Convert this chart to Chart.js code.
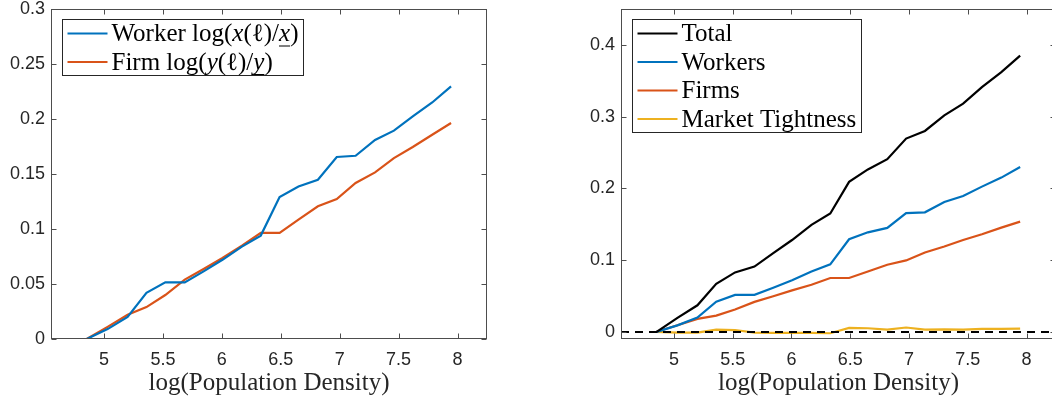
<!DOCTYPE html>
<html>
<head>
<meta charset="utf-8">
<script src="https://cdn.jsdelivr.net/npm/chart.js@4/dist/chart.umd.min.js"></script>
<style>
  html, body { margin: 0; padding: 0; background: #fff; overflow: hidden; width: 1052px; height: 402px; }
  .panel { position: absolute; top: 0; height: 402px; }
  #leftPanel { left: 0; width: 500px; }
  #rightPanel { left: 570px; width: 490px; }
</style>
</head>
<body>
<div class="panel" id="leftPanel"><canvas id="leftChart"></canvas></div>
<div class="panel" id="rightPanel"><canvas id="rightChart"></canvas></div>
<script>
// Values
var logDensity = [4.853, 5.03, 5.2, 5.36, 5.52, 5.685, 5.845, 6.005, 6.17, 6.33,
                  6.49, 6.65, 6.815, 6.975, 7.135, 7.3, 7.46, 7.62, 7.785, 7.945];
var workerGain = [0, 0.009, 0.020, 0.042, 0.0515, 0.0515, 0.0615, 0.072, 0.084, 0.094,
                  0.129, 0.1387, 0.1448, 0.1655, 0.1666, 0.181, 0.1894, 0.2024, 0.215, 0.2297];
var firmGain = [0, 0.011, 0.022, 0.029, 0.040, 0.054, 0.0636, 0.0736, 0.0848, 0.0964,
                0.0964, 0.1085, 0.1206, 0.1273, 0.1418, 0.1515, 0.1645, 0.1745, 0.1857, 0.1964];
var totalEffect = [0, 0.0194, 0.037, 0.067, 0.0828, 0.091, 0.1097, 0.128, 0.149, 0.165,
                   0.209, 0.2264, 0.2407, 0.2694, 0.280, 0.3018, 0.318, 0.341, 0.362, 0.385];
var firmsEffect = [0, 0.0092, 0.018, 0.0226, 0.031, 0.0417, 0.0495, 0.0578, 0.0657, 0.075,
                   0.075, 0.0842, 0.0935, 0.0995, 0.1106, 0.1189, 0.128, 0.136, 0.1453, 0.1536];
var tightnessEffect = [0, -0.001, -0.001, 0.003, 0.0025, -0.001, -0.0015, -0.0015, -0.0015, -0.002,
                       0.0055, 0.005, 0.003, 0.006, 0.003, 0.0035, 0.003, 0.004, 0.004, 0.0045];

var xTicks = [5, 5.5, 6, 6.5, 7, 7.5, 8];
var yTicksLeft = [0, 0.05, 0.1, 0.15, 0.2, 0.25, 0.3];
var yTicksRight = [0, 0.1, 0.2, 0.3, 0.4];

var xTitle = 'log(Population Density)';

// legend entries: segments of [text, italic, underline]
var leftLegend = [
  { color: '#0072BD', parts: [['Worker log(', 0, 0], ['x', 1, 0], ['(\u2113)/', 0, 0], ['x', 1, 1], [')', 0, 0]] },
  { color: '#D95319', parts: [['Firm log(', 0, 0], ['y', 1, 0], ['(\u2113)/', 0, 0], ['y', 1, 1], [')', 0, 0]] }
];
var rightLegend = [
  { color: '#000000', parts: [['Total', 0, 0]] },
  { color: '#0072BD', parts: [['Workers', 0, 0]] },
  { color: '#D95319', parts: [['Firms', 0, 0]] },
  { color: '#EDB120', parts: [['Market Tightness', 0, 0]] }
];

var SERIF = '"Liberation Serif", "Times New Roman", serif';
var SANS = '"Liberation Sans", Arial, sans-serif';
var SERIF_SIZE = 25;

function points(ys) {
  return logDensity.map(function (x, i) { return { x: x, y: ys[i] }; });
}

function series(label, ys, color) {
  return {
    label: label,
    data: points(ys),
    borderColor: color,
    backgroundColor: color,
    borderWidth: 2.2,
    pointRadius: 0,
    tension: 0,
    fill: false
  };
}

/**
 * MATLAB style box with inward ticks on all four sides
 */
var boxAxes = {
  id: 'boxAxes',
  afterDatasetsDraw: function (chart, args, opts) {
    var ctx = chart.ctx;
    var a = chart.chartArea;
    var xs = chart.scales.x;
    var ys = chart.scales.y;
    ctx.save();

    // dashed zero line
    if (opts.zeroLine) {
      var y0 = Math.round(ys.getPixelForValue(0));
      ctx.strokeStyle = '#000';
      ctx.lineWidth = 2;
      ctx.setLineDash([8, 6]);
      ctx.beginPath();
      ctx.moveTo(a.left, y0);
      ctx.lineTo(a.right, y0);
      ctx.stroke();
      ctx.setLineDash([]);
    }

    ctx.strokeStyle = '#4d4d4d';
    ctx.lineWidth = 1;
    var L = Math.round(a.left) + 0.5, R = Math.round(a.right) - 0.5;
    var T = Math.round(a.top) + 0.5, B = Math.round(a.bottom) - 0.5;
    ctx.strokeRect(L, T, R - L, B - T);

    var tl = 5;
    ctx.beginPath();
    xs.ticks.forEach(function (t) {
      var px = Math.round(xs.getPixelForValue(t.value)) + 0.5;
      ctx.moveTo(px, B); ctx.lineTo(px, B - tl);
      ctx.moveTo(px, T); ctx.lineTo(px, T + tl);
    });
    ys.ticks.forEach(function (t) {
      var py = Math.round(ys.getPixelForValue(t.value)) + 0.5;
      ctx.moveTo(L, py); ctx.lineTo(L + tl, py);
      ctx.moveTo(R, py); ctx.lineTo(R - tl, py);
    });
    ctx.stroke();
    ctx.restore();
  }
};

/**
 * Legend with italic / underlined pieces, drawn in the top left corner
 */
var mathLegend = {
  id: 'mathLegend',
  afterDraw: function (chart, args, opts) {
    var entries = opts.entries;
    if (!entries) return;
    var ctx = chart.ctx;
    var a = chart.chartArea;
    var size = SERIF_SIZE;
    var rowH = 28.5;
    var sample = 40;
    ctx.save();
    ctx.textBaseline = 'middle';

    var widest = 0;
    entries.forEach(function (e) {
      var w = 0;
      e.parts.forEach(function (p) {
        ctx.font = (p[1] ? 'italic ' : '') + size + 'px ' + SERIF;
        w += ctx.measureText(p[0]).width;
      });
      widest = Math.max(widest, w);
    });

    var bx = Math.round(a.left + 11) + 0.5;
    var by = Math.round(a.top + 10) + 0.5;
    var bw = Math.round(5 + sample + 4 + widest + 5);
    var bh = Math.round(entries.length * rowH - 1);
    ctx.fillStyle = '#fff';
    ctx.fillRect(bx, by, bw, bh);
    ctx.strokeStyle = '#262626';
    ctx.lineWidth = 1;
    ctx.strokeRect(bx, by, bw, bh);

    entries.forEach(function (e, i) {
      var cy = by + 14 + i * rowH;
      ctx.strokeStyle = e.color;
      ctx.lineWidth = 2.2;
      ctx.beginPath();
      ctx.moveTo(bx + 5, cy);
      ctx.lineTo(bx + 5 + sample, cy);
      ctx.stroke();

      var tx = bx + 5 + sample + 4;
      ctx.fillStyle = '#000';
      e.parts.forEach(function (p) {
        ctx.font = (p[1] ? 'italic ' : '') + size + 'px ' + SERIF;
        var w = ctx.measureText(p[0]).width;
        ctx.fillText(p[0], tx, cy + 1);
        if (p[2]) {
          ctx.lineWidth = 1;
          ctx.strokeStyle = '#000';
          ctx.beginPath();
          ctx.moveTo(tx, cy + 12.5);
          ctx.lineTo(tx + w, cy + 12.5);
          ctx.stroke();
        }
        tx += w;
      });
    });
    ctx.restore();
  }
};

function makeOptions(yMin, yMax, yTicks, legendEntries, zeroLine, padRight) {
  return {
    responsive: true,
    maintainAspectRatio: false,
    animation: false,
    layout: { padding: { top: 9, right: padRight, bottom: 0, left: 0 } },
    plugins: {
      legend: { display: false },
      tooltip: { enabled: false },
      mathLegend: { entries: legendEntries },
      boxAxes: { zeroLine: zeroLine }
    },
    scales: {
      x: {
        type: 'linear',
        min: 4.55,
        max: 8.25,
        grid: { display: false, drawTicks: false, tickLength: 0 },
        border: { display: false },
        afterBuildTicks: function (scale) {
          scale.ticks = xTicks.map(function (v) { return { value: v }; });
        },
        afterFit: function (scale) {
          scale.height = 63;
          scale.paddingLeft = 0;
          scale.paddingRight = 0;
        },
        ticks: {
          padding: 10,
          maxRotation: 0,
          color: '#262626',
          font: { family: SANS, size: 18 },
          callback: function (v) { return String(v); }
        },
        title: {
          display: true,
          text: xTitle,
          color: '#262626',
          font: { family: SERIF, size: SERIF_SIZE },
          padding: { top: 0, bottom: 4 }
        }
      },
      y: {
        type: 'linear',
        min: yMin,
        max: yMax,
        grid: { display: false, drawTicks: false, tickLength: 0 },
        border: { display: false },
        afterBuildTicks: function (scale) {
          scale.ticks = yTicks.map(function (v) { return { value: v }; });
        },
        afterFit: function (scale) {
          scale.width = 51;
          scale.paddingTop = 0;
          scale.paddingBottom = 0;
        },
        ticks: {
          padding: 6,
          color: '#262626',
          font: { family: SANS, size: 18, lineHeight: 1 },
          callback: function (v) { return String(v); }
        }
      }
    }
  };
}

new Chart(document.getElementById('leftChart'), {
  type: 'line',
  data: {
    datasets: [
      series('Worker', workerGain, '#0072BD'),
      series('Firm', firmGain, '#D95319')
    ]
  },
  options: makeOptions(0, 0.3, yTicksLeft, leftLegend, false, 13),
  plugins: [boxAxes, mathLegend]
});

new Chart(document.getElementById('rightChart'), {
  type: 'line',
  data: {
    datasets: [
      series('Total', totalEffect, '#000000'),
      series('Workers', workerGain, '#0072BD'),
      series('Firms', firmsEffect, '#D95319'),
      series('Market Tightness', tightnessEffect, '#EDB120')
    ]
  },
  options: makeOptions(-0.01, 0.45, yTicksRight, rightLegend, true, 4),
  plugins: [boxAxes, mathLegend]
});
</script>
</body>
</html>
